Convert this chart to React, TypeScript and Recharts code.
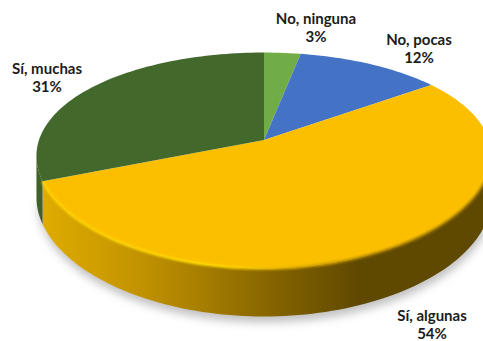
import { Pie, PieChart } from 'recharts';

const categories = ['No, ninguna', 'No, pocas', 'Sí, algunas', 'Sí, muchas'];
const shares = [3, 12, 54, 31];
const topColors = ['#70AD47', '#4472C4', '#FBBF00', '#43682B'];
const wallColors = ['#5A8A38', '#355A9C', 'url(#goldWall)', '#3F6228'];

const data = categories.map((name, i) => ({ name, value: shares[i], fill: topColors[i] }));

// where each two-line label sits, centred on x, first line baseline on y
const labelAnchors: Record<string, [number, number]> = {
  'No, ninguna': [316, 23.5],
  'No, pocas': [419, 44.5],
  'Sí, algunas': [432, 320.5],
  'Sí, muchas': [47, 73.5],
};

// fake 3D: the flat disc is squashed and pushed through a small perspective divide
const TILT = 0.4625;
const PERSPECTIVE_Y = 0.19;
const PERSPECTIVE_X = 0.15;
const ARC_STEP = 1.5;

type SectorProps = {
  cx: number;
  cy: number;
  outerRadius: number;
  startAngle: number;
  endAngle: number;
  fill: string;
  index?: number;
  name?: string;
};

function project(s: SectorProps, deg: number) {
  const a = (deg * Math.PI) / 180;
  const u = Math.cos(a);
  const v = -Math.sin(a);
  return {
    x: s.cx + (s.outerRadius * u) / (1 - PERSPECTIVE_X * v),
    y: s.cy + (s.outerRadius * TILT * v) / (1 - PERSPECTIVE_Y * v),
    v,
  };
}

function arcPoints(s: SectorProps) {
  const pts = [];
  for (let a = s.startAngle; a > s.endAngle; a -= ARC_STEP) pts.push(project(s, a));
  pts.push(project(s, s.endAngle));
  return pts;
}

// only the stretch of rim that faces the viewer has a visible side
const frontRim = (s: SectorProps) => arcPoints(s).filter((p) => p.v >= PERSPECTIVE_X);
const wallDrop = (v: number) => 40 + 8 * v;
const toPath = (pts: { x: number; y: number }[]) =>
  pts.map((p, i) => `${i ? 'L' : 'M'}${p.x.toFixed(2)} ${p.y.toFixed(2)}`).join(' ');

function ShadowShape(props: SectorProps) {
  const rim = frontRim(props);
  if (rim.length < 2) return <g />;
  const low = rim.map((p) => ({ x: p.x + 1, y: p.y + wallDrop(p.v) + 6 }));
  return <path d={`${toPath(low)} L${props.cx} ${props.cy} Z`} fill="#c2c2c2" filter="url(#softShadow)" />;
}

function WallShape(props: SectorProps) {
  const rim = frontRim(props);
  if (rim.length < 2) return <g />;
  const low = rim.map((p) => ({ x: p.x, y: p.y + wallDrop(p.v) })).reverse();
  const fill = wallColors[categories.indexOf(props.name ?? '')];
  return <path d={`${toPath(rim)} ${toPath(low).replace('M', 'L')} Z`} fill={fill} />;
}

function TopShape(props: SectorProps) {
  const apex = `M${props.cx} ${props.cy}`;
  const rim = toPath(arcPoints(props)).replace('M', 'L');
  const front = frontRim(props);
  const isGold = props.fill === topColors[2];
  return (
    <g>
      <path d={`${apex} ${rim} Z`} fill={props.fill} />
      {isGold && (
        <path
          d={toPath(front)}
          fill="none"
          stroke="url(#goldBevel)"
          strokeWidth={2.6}
          filter="url(#softEdge)"
        />
      )}
    </g>
  );
}

function renderLabel(props: { name?: string; percent?: number }) {
  const [x, y] = labelAnchors[props.name ?? ''];
  return (
    <text
      x={x}
      y={y}
      textAnchor="middle"
      fontFamily="Lato, sans-serif"
      fontWeight={700}
      fontSize={15}
      fill="#1c1c1c"
    >
      <tspan x={x}>{props.name}</tspan>
      <tspan x={x} dy={18.5}>{`${Math.round((props.percent ?? 0) * 100)}%`}</tspan>
    </text>
  );
}

export default function App() {
  const shared = {
    data,
    dataKey: 'value',
    nameKey: 'name',
    cx: 264,
    cy: 140,
    innerRadius: 0,
    outerRadius: 225,
    startAngle: 90,
    endAngle: -270,
    stroke: 'none',
    isAnimationActive: false,
    legendType: 'none' as const,
  };

  return (
    <div style={{ position: 'absolute', left: 0, top: 0, width: 483, height: 341, overflow: 'hidden', background: '#fff' }}>
      <svg width={0} height={0} style={{ position: 'absolute' }}>
        <defs>
          <linearGradient id="goldWall" gradientUnits="userSpaceOnUse" x1={40} y1={0} x2={483} y2={0}>
            <stop offset="0" stopColor="#E0AC00" />
            <stop offset="0.2" stopColor="#C69600" />
            <stop offset="0.37" stopColor="#A67D00" />
            <stop offset="0.52" stopColor="#866500" />
            <stop offset="0.72" stopColor="#5F4800" />
            <stop offset="1" stopColor="#5F4800" />
          </linearGradient>
          <linearGradient id="goldBevel" gradientUnits="userSpaceOnUse" x1={40} y1={0} x2={483} y2={0}>
            <stop offset="0" stopColor="#FFD000" />
            <stop offset="0.4" stopColor="#FFDC00" />
            <stop offset="0.55" stopColor="#E8B400" />
            <stop offset="0.75" stopColor="#A67D00" />
            <stop offset="1" stopColor="#8A6900" />
          </linearGradient>
          <filter id="softShadow" x="-10%" y="-10%" width="120%" height="120%">
            <feGaussianBlur stdDeviation="4" />
          </filter>
          <filter id="softEdge" x="-5%" y="-5%" width="110%" height="110%">
            <feGaussianBlur stdDeviation="0.8" />
          </filter>
        </defs>
      </svg>
      <PieChart width={483} height={341} margin={{ top: 0, right: 0, bottom: 0, left: 0 }}>
        <Pie {...shared} shape={ShadowShape as never} />
        <Pie {...shared} shape={WallShape as never} />
        <Pie {...shared} shape={TopShape as never} label={renderLabel as never} labelLine={false} />
      </PieChart>
    </div>
  );
}
